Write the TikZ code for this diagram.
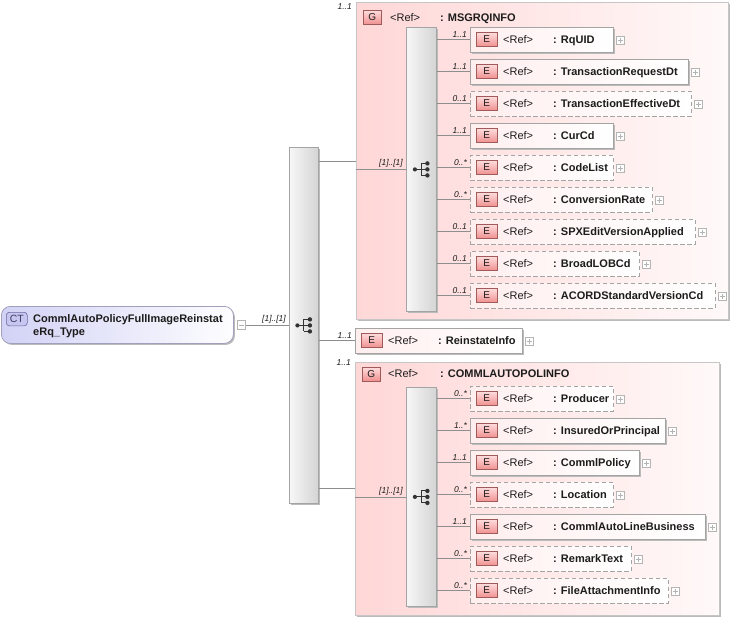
\documentclass[tikz,border=0pt]{standalone}
\usepackage{fontspec}
\setmainfont{Liberation Sans}
\usetikzlibrary{shadows}

\definecolor{bordc}{HTML}{A4A4A4}
\definecolor{grpbord}{HTML}{C6C6C6}
\definecolor{shadc}{HTML}{BBBBBB}
\definecolor{grpL}{HTML}{FFD7D7}
\definecolor{grpR}{HTML}{FFF9F9}
\definecolor{boxL}{HTML}{FFEEEE}
\definecolor{badgeT}{HTML}{FFDCDC}
\definecolor{badgeB}{HTML}{F09090}
\definecolor{badgeD}{HTML}{A05A5A}
\definecolor{seqL}{HTML}{F7F7F7}
\definecolor{seqR}{HTML}{D4D4D4}
\definecolor{symc}{HTML}{333333}
\definecolor{linec}{HTML}{8E8E8E}
\definecolor{ctL}{HTML}{D2D2F6}
\definecolor{ctB}{HTML}{A0A0BC}
\definecolor{ctbadge}{HTML}{C6C6F0}
\definecolor{ctbadgeD}{HTML}{6A6AA0}
\definecolor{txtc}{HTML}{1C1C1C}
\definecolor{plusc}{HTML}{B4B4B4}

\tikzset{
  conn/.style={draw=linec, line width=0.8pt},
  elsolid/.style={draw=bordc, line width=0.8pt, left color=boxL, right color=white,
    minimum height=25pt, inner sep=0pt, anchor=west,
    drop shadow={shadow xshift=1.5pt, shadow yshift=-1.5pt, opacity=1, fill=shadc}},
  elopt/.style={draw=bordc, line width=0.8pt, dash pattern=on 4.5pt off 2.5pt,
    left color=boxL, right color=white, minimum height=25pt, inner sep=0pt, anchor=west},
  ebadge/.style={draw=badgeD, line width=0.6pt, top color=badgeT, bottom color=badgeB,
    minimum width=21pt, minimum height=14pt, inner sep=0pt, anchor=west,
    font=\fontsize{10}{12}\selectfont, text=txtc},
  gbadge/.style={ebadge, minimum width=18pt, anchor=north west},
  reft/.style={anchor=base west, inner sep=0pt, text=txtc, font=\fontsize{11}{13}\selectfont},
  namet/.style={anchor=base west, inner sep=0pt, text=txtc, font=\fontsize{11}{13}\selectfont\bfseries},
  multt/.style={anchor=south east, inner sep=0pt, text=txtc, font=\fontsize{8.5}{10}\selectfont\itshape},
  plusbox/.style={draw=plusc, fill=white, line width=0.6pt, minimum size=8.5pt, inner sep=0pt, anchor=west,
    path picture={\draw[plusc, line width=0.6pt]
      ([xshift=-2.5pt]path picture bounding box.center) -- ([xshift=2.5pt]path picture bounding box.center)
      ([yshift=-2.5pt]path picture bounding box.center) -- ([yshift=2.5pt]path picture bounding box.center);}},
  minusbox/.style={draw=plusc, fill=white, line width=0.6pt, minimum size=8.5pt, inner sep=0pt, anchor=west,
    path picture={\draw[plusc, line width=0.6pt]
      ([xshift=-2.5pt]path picture bounding box.center) -- ([xshift=2.5pt]path picture bounding box.center);}},
  grp/.style={draw=grpbord, line width=0.8pt, left color=grpL, right color=grpR, inner sep=0pt,
    anchor=north west, drop shadow={shadow xshift=2pt, shadow yshift=-2pt, opacity=1, fill=shadc}},
  seqbox/.style={draw=bordc, line width=0.8pt, left color=seqL, right color=seqR, inner sep=0pt,
    anchor=north west, drop shadow={shadow xshift=1.5pt, shadow yshift=-1.5pt, opacity=1, fill=shadc}},
  ctbox/.style={draw=ctB, line width=0.8pt, rounded corners=9pt, left color=ctL, right color=white!96!ctL,
    inner sep=0pt, anchor=north west,
    drop shadow={shadow xshift=1.5pt, shadow yshift=-1.5pt, opacity=1, fill=shadc}},
  ctbadgest/.style={draw=ctbadgeD, line width=0.6pt, fill=ctbadge, rounded corners=3pt,
    minimum width=21pt, minimum height=13.5pt, inner sep=0pt, anchor=north west,
    font=\fontsize{10.5}{12}\selectfont, text=ctbadgeD!60!black},
  seqsym/.pic={
    \draw[symc, line width=1.1pt] (-6.5,0) -- (0,0) (0,-6) -- (0,6)
      (0,-6) -- (6,-6) (0,0) -- (6,0) (0,6) -- (6,6);
    \fill[symc] (-6.5,0) circle (2.1pt) (6,-6) circle (2.2pt) (6,0) circle (2.2pt) (6,6) circle (2.2pt);
  }
}

% #1 name, #2 style, #3 left x, #4 y centre, #5 width, #6 multiplicity, #7 label, #8 sequence node
\newcommand\xelt[8]{%
  \node[#2, minimum width=#5pt] (#1) at (#3,#4) {};
  \node[ebadge] (#1b) at ([xshift=6pt]#1.west) {E};
  \node[reft] (#1r) at ([xshift=33pt,yshift=-4pt]#1.west) {<Ref>};
  \node[namet] (#1n) at ([xshift=83pt,yshift=-4pt]#1.west) {: #7};
  \node[plusbox] (#1p) at ([xshift=2pt,yshift=-1pt]#1.east) {};
  \draw[conn] (#8.east |- #1.west) -- (#1.west);
  \node[multt] (#1m) at ([xshift=-3pt,yshift=2pt]#1.west) {#6};
}

\begin{document}
\begin{tikzpicture}[x=1pt,y=-1pt]
\useasboundingbox (0,0) rectangle (735,622);

% ---------- groups ----------
\node[grp, minimum width=372pt, minimum height=317pt] (msg) at (356,2) {};
\node[grp, minimum width=364pt, minimum height=253pt] (cpi) at (355,362) {};

% ---------- sequence boxes ----------
\node[seqbox, minimum width=29pt, minimum height=356pt] (seqM) at (289,147) {};
\node[seqbox, minimum width=30pt, minimum height=284pt] (seqA) at (406,27) {};
\node[seqbox, minimum width=30pt, minimum height=219pt] (seqB) at (406,387) {};
\pic at (seqM.center) {seqsym};
\pic at (seqA.center) {seqsym};
\pic at (seqB.center) {seqsym};

% ---------- complex type ----------
\node[ctbox, minimum width=232pt, minimum height=37pt] (ct) at (1,306) {};
\node[ctbadgest] (ctb) at (6,312) {CT};
\node[anchor=north west, inner sep=0pt, align=left, text=txtc,
      font=\fontsize{11}{12.5}\selectfont\bfseries] (ctt) at (33,314.5)
      {CommlAutoPolicyFullImageReinstat\\eRq\_Type};
\node[minusbox] (ctm) at ([xshift=3pt]ct.east) {};
\draw[conn] (ctm.east) -- (seqM.west |- ctm.east);
\node[multt] (ctl) at ([xshift=-3pt,yshift=1.5pt]seqM.west |- ctm.east) {[1]..[1]};

% ---------- MSGRQINFO ----------
\draw[conn] (seqM.east |- 0,161) -- (msg.west |- 0,161);
\node[multt] (msgm) at (352,9.5) {1..1};
\node[gbadge] (msgG) at (363,10) {G};
\node[reft] (msgr) at (390,21) {<Ref>};
\node[namet] (msgn) at (440,21) {: MSGRQINFO};
\draw[conn] (msg.west |- seqA.center) -- (seqA.west);
\node[multt] (msgl) at ([xshift=-3pt,yshift=1.5pt]seqA.west) {[1]..[1]};

\xelt{mRq}{elsolid}{470}{39.5}{143}{1..1}{RqUID}{seqA}
\xelt{mTRD}{elsolid}{470}{71.5}{218}{1..1}{TransactionRequestDt}{seqA}
\xelt{mTED}{elopt}{470}{103.5}{221}{0..1}{TransactionEffectiveDt}{seqA}
\xelt{mCur}{elsolid}{470}{135.5}{143}{1..1}{CurCd}{seqA}
\xelt{mCode}{elopt}{470}{167.5}{143}{0..*}{CodeList}{seqA}
\xelt{mConv}{elopt}{470}{199.5}{182}{0..*}{ConversionRate}{seqA}
\xelt{mSPX}{elopt}{470}{231.5}{225}{0..1}{SPXEditVersionApplied}{seqA}
\xelt{mLOB}{elopt}{470}{263.5}{169}{0..1}{BroadLOBCd}{seqA}
\xelt{mACO}{elopt}{470}{295.5}{245}{0..1}{ACORDStandardVersionCd}{seqA}

% ---------- ReinstateInfo ----------
\xelt{rein}{elsolid}{355}{340.5}{167}{1..1}{ReinstateInfo}{seqM}

% ---------- COMMLAUTOPOLINFO ----------
\draw[conn] (seqM.east |- 0,488) -- (cpi.west |- 0,488);
\node[multt] (cpim) at (351,366) {1..1};
\node[gbadge, minimum height=13.5pt] (cpiG) at (362,367) {G};
\node[reft] (cpir) at (388,377.5) {<Ref>};
\node[namet] (cpin) at (440,377.5) {: COMMLAUTOPOLINFO};
\draw[conn] (cpi.west |- seqB.center) -- (seqB.west);
\node[multt] (cpil) at ([xshift=-3pt,yshift=1.5pt]seqB.west) {[1]..[1]};

\xelt{cProd}{elopt}{470}{398.5}{143}{0..*}{Producer}{seqB}
\xelt{cIns}{elsolid}{470}{430.5}{195}{1..*}{InsuredOrPrincipal}{seqB}
\xelt{cPol}{elsolid}{470}{462.5}{169}{1..1}{CommlPolicy}{seqB}
\xelt{cLoc}{elopt}{470}{494.5}{143}{0..*}{Location}{seqB}
\xelt{cCALB}{elsolid}{470}{526.5}{235}{1..1}{CommlAutoLineBusiness}{seqB}
\xelt{cRem}{elopt}{470}{558.5}{161}{0..*}{RemarkText}{seqB}
\xelt{cFile}{elopt}{470}{590.5}{198}{0..*}{FileAttachmentInfo}{seqB}

\end{tikzpicture}
\end{document}
